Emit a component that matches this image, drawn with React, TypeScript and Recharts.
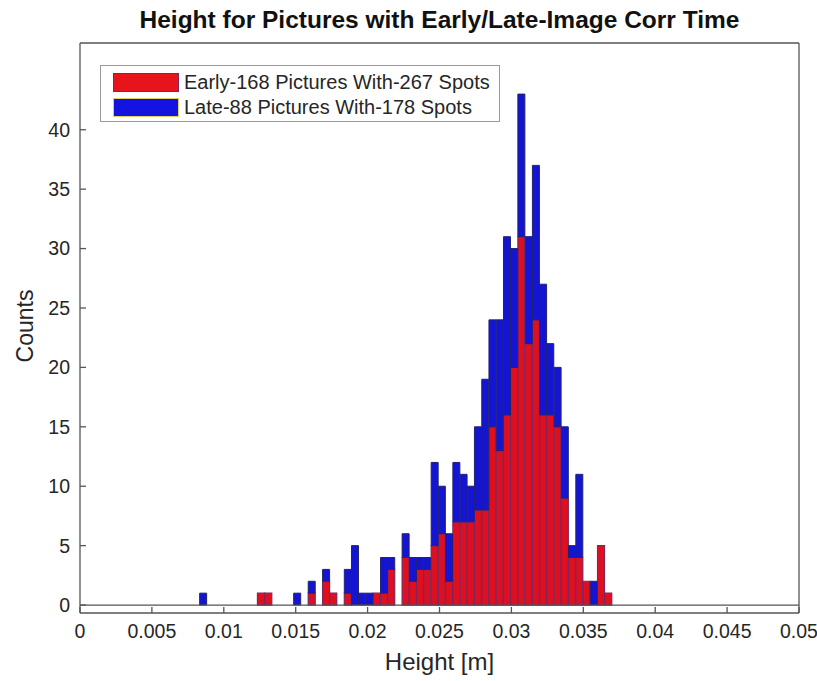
import React from 'react';
import { BarChart, Bar, XAxis, YAxis, Legend, ReferenceLine } from 'recharts';

const FONT = '"Liberation Sans", Arial, Helvetica, sans-serif';

// bin centres of the height histogram [m]
const binCenters = [
  0.00857, 0.00907, 0.00958, 0.01008, 0.01058, 0.01109, 0.01159, 0.01209, 0.01259, 0.0131,
  0.0136, 0.0141, 0.01461, 0.01511, 0.01561, 0.01612, 0.01662, 0.01712, 0.01762, 0.01813,
  0.01863, 0.01913, 0.01964, 0.02014, 0.02064, 0.02115, 0.02165, 0.02215, 0.02265, 0.02316,
  0.02366, 0.02416, 0.02467, 0.02517, 0.02567, 0.02618, 0.02668, 0.02718, 0.02768, 0.02819,
  0.02869, 0.02919, 0.0297, 0.0302, 0.0307, 0.03121, 0.03171, 0.03221, 0.03271, 0.03322,
  0.03372, 0.03422, 0.03473, 0.03523, 0.03573, 0.03624, 0.03674,
];

// counts per bin, early pictures (red, bottom of stack)
const earlyCounts = [
  0, 0, 0, 0, 0, 0, 0, 0, 1, 1,
  0, 0, 0, 0, 0, 1, 0, 2, 1, 0,
  1, 0, 0, 0, 1, 1, 3, 0, 4, 2,
  3, 3, 5, 6, 2, 7, 7, 7, 8, 8,
  15, 13, 16, 20, 31, 22, 24, 16, 16, 15,
  9, 4, 4, 2, 0, 5, 1,
];

// counts per bin, late pictures (blue, stacked on top)
const lateCounts = [
  1, 0, 0, 0, 0, 0, 0, 0, 0, 0,
  0, 0, 0, 1, 0, 1, 0, 1, 0, 0,
  2, 5, 1, 1, 0, 3, 1, 0, 2, 2,
  1, 1, 7, 4, 4, 5, 4, 3, 7, 11,
  9, 11, 15, 10, 12, 9, 13, 11, 6, 5,
  6, 1, 7, 0, 2, 0, 0,
];

const xTicks = [0, 0.005, 0.01, 0.015, 0.02, 0.025, 0.03, 0.035, 0.04, 0.045, 0.05];
const yTicks = [0, 5, 10, 15, 20, 25, 30, 35, 40];

const legendLabels = ['Early-168 Pictures With-267 Spots', 'Late-88 Pictures With-178 Spots'];

const data = binCenters.map((h, i) => ({ h, early: earlyCounts[i], late: lateCounts[i] }));

const AXIS = '#555';
const TXT = '#262626';

const fmtX = (v: number) => String(parseFloat(v.toFixed(3)));

const XLabel = ({ viewBox }: any) => (
  <text
    x={viewBox.x + viewBox.width / 2}
    y={viewBox.y + 57}
    textAnchor="middle"
    fill={TXT}
    fontSize={24}
    fontFamily={FONT}
  >
    Height [m]
  </text>
);

const YLabel = ({ viewBox }: any) => {
  const cx = 33;
  const cy = viewBox.y + viewBox.height / 2 - 2;
  return (
    <text
      x={cx}
      y={cy}
      transform={`rotate(-90, ${cx}, ${cy})`}
      textAnchor="middle"
      fill={TXT}
      fontSize={23}
      fontFamily={FONT}
    >
      Counts
    </text>
  );
};

const LegendBox = () => (
  <div
    style={{
      width: 400,
      height: 57,
      boxSizing: 'border-box',
      border: '1px solid #9a9a9a',
      background: '#fff',
      padding: '4px 0 0 12px',
      fontFamily: FONT,
      fontSize: 20,
      color: TXT,
      textAlign: 'left',
      whiteSpace: 'nowrap',
    }}
  >
    {legendLabels.map((lab, i) => (
      <div key={lab} style={{ display: 'flex', alignItems: 'center', height: 24, marginBottom: 1 }}>
        <span
          style={{
            display: 'inline-block',
            width: 66,
            height: 19,
            boxSizing: 'border-box',
            background: i === 0 ? '#e8141c' : '#1414e0',
            border: i === 0 ? '1px solid #7d2660' : '1px solid #e0d060',
            marginRight: 5,
            flex: 'none',
          }}
        />
        {lab}
      </div>
    ))}
  </div>
);

export default function App() {
  return (
    <div style={{ position: 'absolute', left: 0, top: 0, width: 817, height: 681, background: '#fff' }}>
      <div
        style={{
          position: 'absolute',
          left: 80,
          top: 6,
          width: 719,
          textAlign: 'center',
          fontFamily: FONT,
          fontWeight: 'bold',
          fontSize: 24.5,
          color: '#111',
          whiteSpace: 'nowrap',
        }}
      >
        Height for Pictures with Early/Late-Image Corr Time
      </div>
      <BarChart
        width={817}
        height={681}
        data={data}
        margin={{ top: 43, right: 18, bottom: 0, left: 0 }}
        barCategoryGap={0}
        barGap={0}
      >
        <XAxis
          xAxisId="b"
          dataKey="h"
          type="number"
          domain={[0, 0.05]}
          ticks={xTicks}
          interval={0}
          allowDataOverflow
          height={68}
          tickSize={-6}
          tickMargin={17}
          tickFormatter={fmtX}
          stroke={AXIS}
          strokeWidth={1.3}
          tick={{ fill: TXT, fontSize: 19.5, fontFamily: FONT }}
          label={<XLabel />}
        />
        <XAxis
          xAxisId="t"
          dataKey="h"
          type="number"
          orientation="top"
          mirror
          domain={[0, 0.05]}
          ticks={xTicks}
          interval={0}
          allowDataOverflow
          tick={false}
          tickSize={6}
          stroke={AXIS}
          strokeWidth={1.3}
        />
        <YAxis
          yAxisId="l"
          type="number"
          domain={[-0.67, 47.3]}
          ticks={yTicks}
          interval={0}
          allowDataOverflow
          width={80}
          tickSize={-6}
          tickMargin={16}
          stroke={AXIS}
          strokeWidth={1.3}
          tick={{ fill: TXT, fontSize: 19.5, fontFamily: FONT }}
          label={<YLabel />}
        />
        <YAxis
          yAxisId="r"
          type="number"
          orientation="right"
          mirror
          domain={[-0.67, 47.3]}
          ticks={yTicks}
          interval={0}
          allowDataOverflow
          tick={false}
          tickSize={6}
          stroke={AXIS}
          strokeWidth={1.3}
        />
        <Legend
          layout="horizontal"
          verticalAlign="middle"
          align="center"
          content={<LegendBox />}
          wrapperStyle={{ left: 100, top: 65, width: 'auto' }}
        />
        <ReferenceLine xAxisId="b" yAxisId="l" y={0} stroke={AXIS} strokeWidth={1.3} />
        <Bar
          xAxisId="b"
          yAxisId="l"
          dataKey="early"
          stackId="s"
          fill="#de1020"
          stroke="#7d2660"
          strokeWidth={1.2}
          isAnimationActive={false}
        />
        <Bar
          xAxisId="b"
          yAxisId="l"
          dataKey="late"
          stackId="s"
          fill="#1414d4"
          stroke="#23236e"
          strokeWidth={1}
          isAnimationActive={false}
        />
      </BarChart>
    </div>
  );
}
